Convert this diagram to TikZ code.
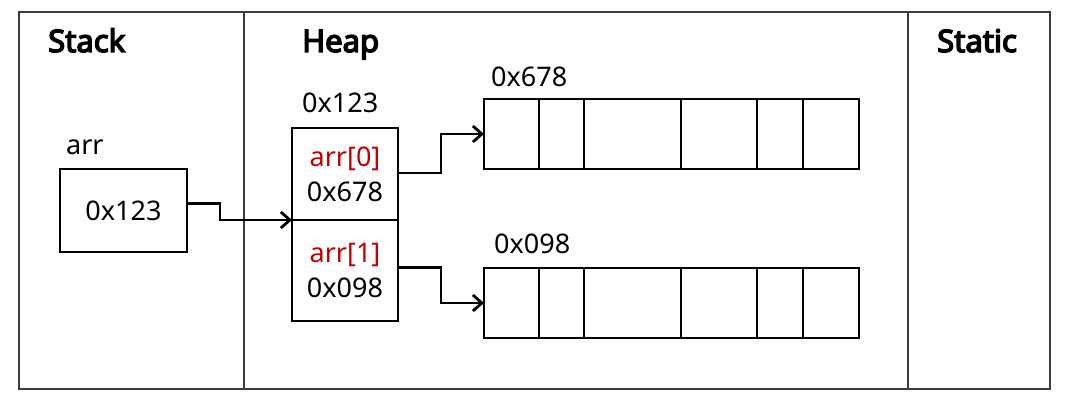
\documentclass[tikz,border=0pt]{standalone}
\usepackage{fontspec}
\setmainfont{Noto Sans}
\newfontfamily\titlefont{Noto Sans}[FakeBold=4.5]
\usetikzlibrary{arrows.meta, positioning}
\definecolor{memRed}{RGB}{192,0,0}
\definecolor{memFrame}{RGB}{60,60,60}

\begin{document}
\begin{tikzpicture}[x=1pt, y=-1pt,
    cell/.style={draw, line width=1.5pt, inner sep=0pt, outer sep=0pt, align=center,
      font=\fontsize{27}{35}\selectfont},
    region/.style={font=\titlefont\fontsize{31}{36}\selectfont, anchor=base west, inner sep=0pt},
    addr/.style={font=\fontsize{27}{34}\selectfont, anchor=base west, inner sep=0pt},
    ptr/.style={-{Straight Barb[length=9pt, width=16pt]}, line width=2.8pt}
  ]
  \useasboundingbox (0,0) rectangle (1067,404);
  % memory regions
  \draw[line width=1.4pt, memFrame] (19,12) rectangle (1050,389);
  \draw[line width=1.4pt, memFrame] (244,12) -- (244,389) (908,12) -- (908,389);
  \node[region] (stackT) at (48,52) {Stack};
  \node[region] (heapT) at (302,52) {Heap};
  \node[region] (staticT) at (937,52) {Static};
  % stack variable
  \node[addr] (arrL) at (66,154) {arr};
  \node[cell, minimum width=127pt, minimum height=83pt] (arrPtr) at (123.5,210.5) {0x123};
  % outer array on the heap
  \node[addr] (outerL) at (302,112) {0x123};
  \node[cell, minimum width=106pt, minimum height=92pt] (elem0) at (345,174)
    {\textcolor{memRed}{arr[0]}\\0x678};
  \node[cell, minimum width=106pt, minimum height=101pt] (elem1) at (345,270.5)
    {\textcolor{memRed}{arr[1]}\\0x098};
  % inner arrays
  \node[addr] (rowAL) at (491,86) {0x678};
  \node[addr] (rowBL) at (494,253) {0x098};
  \node[cell, minimum width=375pt, minimum height=70pt] (rowA) at (671.5,134) {};
  \node[cell, minimum width=375pt, minimum height=70pt] (rowB) at (671.5,303) {};
  \foreach \x in {539,584,681,757,803}
    \draw[line width=1.5pt] (\x,0 |- rowA.north) -- (\x,0 |- rowA.south)
      (\x,0 |- rowB.north) -- (\x,0 |- rowB.south);
  % references
  \draw[ptr] ([yshift=7pt]arrPtr.east) -- ++(33,0) |- (elem0.south west);
  \draw[ptr] ([yshift=1pt]elem0.east) -- ++(43,0) |- (rowA.west);
  \draw[ptr] ([yshift=3pt]elem1.east) -- ++(43,0) |- (rowB.west);
\end{tikzpicture}
\end{document}
